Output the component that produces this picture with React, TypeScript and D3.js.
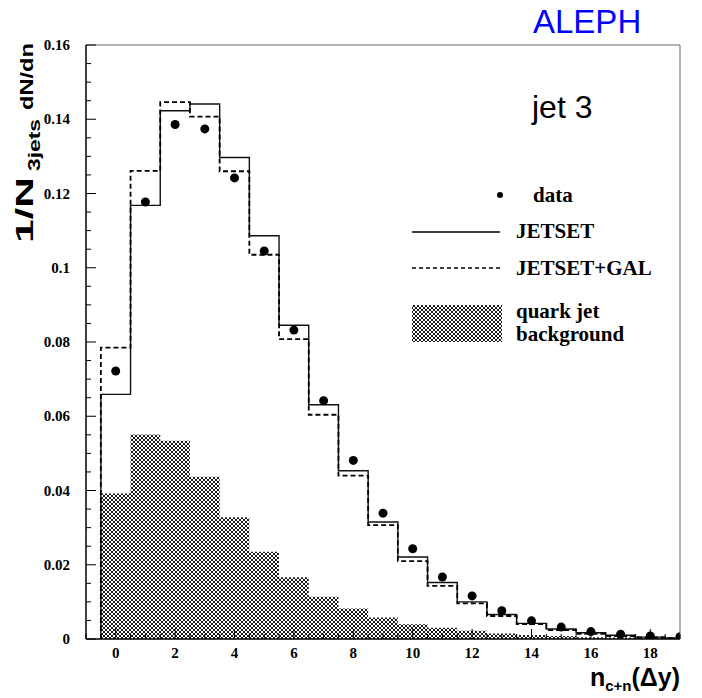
import React from 'react';
import * as d3 from 'd3';

// bin centres (n = 0..19), each bin one unit wide
const bins = d3.range(0, 20);
const dataVals = [0.0722, 0.1177, 0.1386, 0.1374, 0.1242, 0.1045, 0.0832, 0.0642, 0.0481, 0.0339, 0.0243, 0.0167, 0.0116, 0.0076, 0.0049, 0.0032, 0.0020, 0.0013, 0.0008, 0.0006];
const jetset = [0.0659, 0.1168, 0.1423, 0.1441, 0.1297, 0.1086, 0.0845, 0.0631, 0.0453, 0.0315, 0.0221, 0.0152, 0.0100, 0.0066, 0.0042, 0.0027, 0.0017, 0.0010, 0.0005, 0.0003];
const jetsetGal = [0.0785, 0.1261, 0.1446, 0.1407, 0.1260, 0.1035, 0.0808, 0.0604, 0.0440, 0.0307, 0.0210, 0.0143, 0.0096, 0.0062, 0.0040, 0.0024, 0.0014, 0.0008, 0.0004, 0.0002];
const quarkBg = [0.0392, 0.0551, 0.0534, 0.0437, 0.0328, 0.0235, 0.0166, 0.0114, 0.0082, 0.0058, 0.0040, 0.0030, 0.0022, 0.0015, 0.0011, 0.0008, 0.0005, 0.0004, 0.0003, 0.0002];

const xTickLabels = ['0', '2', '4', '6', '8', '10', '12', '14', '16', '18'];
const yTickLabels = ['0', '0.02', '0.04', '0.06', '0.08', '0.1', '0.12', '0.14', '0.16'];

const W = 702, H = 698;
const left = 86, right = 680, top = 45, bottom = 639;

const x = d3.scaleLinear().domain([-1, 19]).range([left, right]);
const y = d3.scaleLinear().domain([0, 0.16]).range([bottom, top]);

const serif = '"Liberation Serif", "Times New Roman", serif';
const sans = '"Liberation Sans", Arial, Helvetica, sans-serif';

// step outline of a histogram: up from 0 at first edge, across each bin, back down
function stepPoints(vals: number[]): [number, number][] {
  const pts: [number, number][] = [[bins[0] - 0.5, 0]];
  vals.forEach((v, i) => {
    pts.push([bins[i] - 0.5, v]);
    pts.push([bins[i] + 0.5, v]);
  });
  pts.push([bins[bins.length - 1] + 0.5, 0]);
  return pts;
}

const line = d3.line<[number, number]>().x(d => x(d[0])).y(d => y(d[1]));

export default function App() {
  const xMajor = xTickLabels.map(Number);
  const xMinor = d3.range(-1, 19.01, 0.5).filter(v => !xMajor.includes(v));
  const yMajor = yTickLabels.map(Number);
  const yMinor = d3.range(0, 0.1601, 0.005).filter(v => !yMajor.some(m => Math.abs(m - v) < 1e-6));

  return (
    <svg width={W} height={H} style={{ position: 'absolute', left: 0, top: 0, background: '#fff' }}>
      <defs>
        <pattern id="xhatch" width={4} height={4} patternUnits="userSpaceOnUse">
          <path d="M0,0L4,4M4,0L0,4M-1,1L1,-1M3,5L5,3M-1,3L1,5M3,-1L5,1" stroke="#000" strokeWidth={0.9} />
        </pattern>
        <clipPath id="plotclip">
          <rect x={left} y={top} width={right - left} height={bottom - top} />
        </clipPath>
      </defs>

      <rect x={0} y={0} width={W} height={H} fill="#fff" />

      <g clipPath="url(#plotclip)">
        {/* quark jet background */}
        <path d={line(stepPoints(quarkBg)) + 'Z'} fill="url(#xhatch)" stroke="none" />
        {/* JETSET */}
        <path d={line(stepPoints(jetset)) || ''} fill="none" stroke="#111" strokeWidth={1.4} />
        {/* JETSET+GAL */}
        <path d={line(stepPoints(jetsetGal)) || ''} fill="none" stroke="#000" strokeWidth={1.8} strokeDasharray="5,3" />
        {/* data */}
        {bins.map((b, i) => (
          <circle key={b} cx={x(b)} cy={y(dataVals[i])} r={4.5} fill="#000" />
        ))}
      </g>

      {/* frame */}
      <line x1={left} x2={right} y1={top} y2={top} stroke="#666" strokeWidth={1} />
      <line x1={right} x2={right} y1={top} y2={bottom} stroke="#666" strokeWidth={1} />
      <line x1={left} x2={left} y1={top} y2={bottom} stroke="#000" strokeWidth={1.5} />
      <line x1={left} x2={right} y1={bottom} y2={bottom} stroke="#000" strokeWidth={1.5} />

      {/* y ticks */}
      {yMajor.map(v => (
        <line key={'ym' + v} x1={left} x2={left + 10} y1={y(v)} y2={y(v)} stroke="#000" strokeWidth={1} />
      ))}
      {yMinor.map(v => (
        <line key={'yn' + v} x1={left} x2={left + 5} y1={y(v)} y2={y(v)} stroke="#000" strokeWidth={1} />
      ))}
      {yTickLabels.map(t => (
        <text key={'yl' + t} x={70} y={y(+t) + 5} textAnchor="end" fontFamily={serif} fontWeight="bold" fontSize={15}>{t}</text>
      ))}

      {/* x ticks */}
      {xMajor.map(v => (
        <line key={'xm' + v} x1={x(v)} x2={x(v)} y1={bottom} y2={bottom - 10} stroke="#000" strokeWidth={1} />
      ))}
      {xMinor.map(v => (
        <line key={'xn' + v} x1={x(v)} x2={x(v)} y1={bottom} y2={bottom - 5} stroke="#000" strokeWidth={1} />
      ))}
      {xTickLabels.map(t => (
        <text key={'xl' + t} x={x(+t)} y={658} textAnchor="middle" fontFamily={serif} fontWeight="bold" fontSize={15}>{t}</text>
      ))}

      {/* axis titles */}
      <text x={680} y={686} textAnchor="end" fontFamily={sans} fontWeight="bold" fontSize={25}>
        n<tspan fontSize={15} dy={5}>c+n</tspan><tspan dy={-5}>(Δy)</tspan>
      </text>
      <g transform="translate(33,243) rotate(-90)">
        <text x={0} y={0} fontFamily={sans} fontWeight="bold" fontSize={24} textLength={66} lengthAdjust="spacingAndGlyphs">1/N</text>
      </g>
      <g transform="translate(40,171) rotate(-90)">
        <text x={0} y={0} fontFamily={sans} fontWeight="bold" fontSize={16} textLength={52} lengthAdjust="spacingAndGlyphs">3jets</text>
      </g>
      <g transform="translate(33,110) rotate(-90)">
        <text x={0} y={0} fontFamily={sans} fontWeight="bold" fontSize={19} textLength={67} lengthAdjust="spacingAndGlyphs">dN/dn</text>
      </g>

      {/* labels */}
      <text x={533} y={33} fontFamily={sans} fontSize={33} fill="#0000ff">ALEPH</text>
      <text x={532} y={118} fontFamily={sans} fontSize={32}>jet 3</text>

      {/* legend */}
      <circle cx={500} cy={195} r={3} fill="#000" />
      <text x={533} y={202} fontFamily={serif} fontWeight="bold" fontSize={21}>data</text>
      <line x1={412} x2={500} y1={232} y2={232} stroke="#000" strokeWidth={1.5} />
      <text x={516} y={238} fontFamily={serif} fontWeight="bold" fontSize={21}>JETSET</text>
      <line x1={412} x2={500} y1={268} y2={268} stroke="#000" strokeWidth={1.3} strokeDasharray="4,3" />
      <text x={516} y={275} fontFamily={serif} fontWeight="bold" fontSize={21}>JETSET+GAL</text>
      <rect x={412} y={305} width={90} height={37} fill="url(#xhatch)" />
      <text x={516} y={318} fontFamily={serif} fontWeight="bold" fontSize={21}>quark jet</text>
      <text x={516} y={341} fontFamily={serif} fontWeight="bold" fontSize={21}>background</text>
    </svg>
  );
}
